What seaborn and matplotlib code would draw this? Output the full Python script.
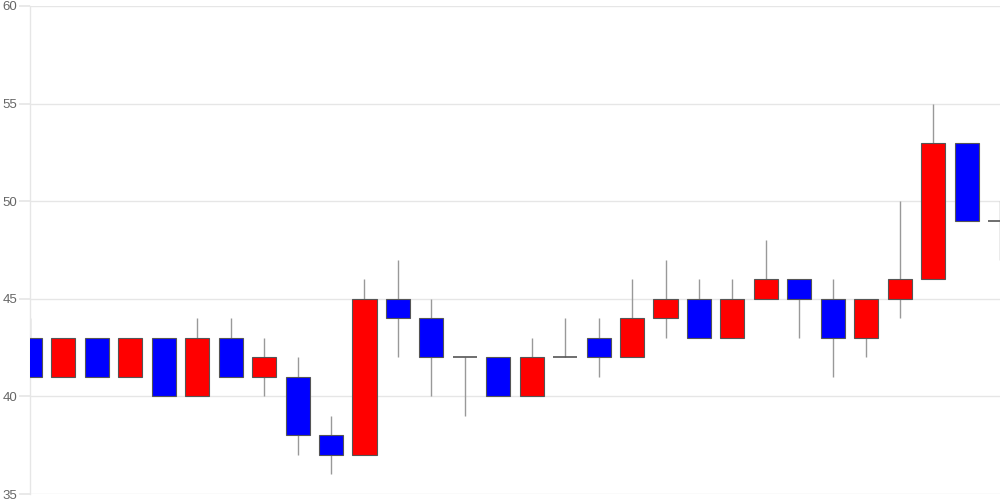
import numpy as np
import pandas as pd
import matplotlib
matplotlib.use("Agg")
import matplotlib.pyplot as plt
import seaborn as sns

# daily prices
opens  = [43, 41, 43, 41, 43, 40, 43, 41, 41, 38, 37, 45, 44, 42, 42, 40, 42, 43, 42, 44,
          45, 43, 45, 46, 45, 43, 45, 46, 53, 49]
highs  = [44, 43, 43, 43, 43, 44, 44, 43, 42, 39, 46, 47, 45, 42, 42, 43, 44, 44, 46, 47,
          46, 46, 48, 46, 46, 45, 50, 55, 53, 50]
lows   = [41, 41, 41, 41, 40, 40, 41, 40, 37, 36, 37, 42, 40, 39, 40, 40, 42, 41, 42, 43,
          43, 43, 45, 43, 41, 42, 44, 46, 49, 47]
closes = [41, 43, 41, 43, 40, 43, 41, 42, 38, 37, 45, 44, 42, 42, 40, 42, 42, 42, 44, 45,
          43, 45, 46, 45, 43, 45, 46, 53, 49, 49]
yticks = [35, 40, 45, 50, 55, 60]

df = pd.DataFrame({"open": opens, "high": highs, "low": lows, "close": closes})
df["x"] = np.arange(len(df))
df["bottom"] = df[["open", "close"]].min(axis=1)
df["height"] = (df["close"] - df["open"]).abs()
df["color"] = np.where(df["close"] > df["open"], "#ff0000", "#0000ff")

sns.set_theme(style="white")
plt.rcParams["font.family"] = ["Liberation Sans", "DejaVu Sans"]

fig = plt.figure(figsize=(10, 5), dpi=100)
ax = fig.add_axes([0.03, 0.012, 0.97, 0.976])

# wicks
ax.vlines(df["x"], df["low"], df["high"], color="#999999", linewidth=1, zorder=2)

# bodies
body = df[df["height"] > 0]
ax.bar(body["x"], body["height"], bottom=body["bottom"], width=0.72,
       color=body["color"], edgecolor="#555555", linewidth=0.8, zorder=3)

# doji
doji = df[df["height"] == 0]
ax.hlines(doji["open"], doji["x"] - 0.36, doji["x"] + 0.36, color="#555555",
          linewidth=1.2, zorder=3)

ax.set_xlim(0, len(df) - 1)
ax.set_ylim(35, 60)
ax.set_yticks(yticks)
ax.set_yticklabels([str(t) for t in yticks])
ax.set_xticks([])
ax.grid(axis="y", color="#e6e6e6", linewidth=1)
ax.tick_params(axis="y", length=8, color="#e6e6e6", labelcolor="#666666",
               labelsize=9.5, pad=1, left=True)
for s in ["top", "right", "bottom"]:
    ax.spines[s].set_visible(False)
ax.spines["left"].set_color("#e6e6e6")
ax.spines["left"].set_linewidth(1)

fig.savefig("out.png", dpi=100)
